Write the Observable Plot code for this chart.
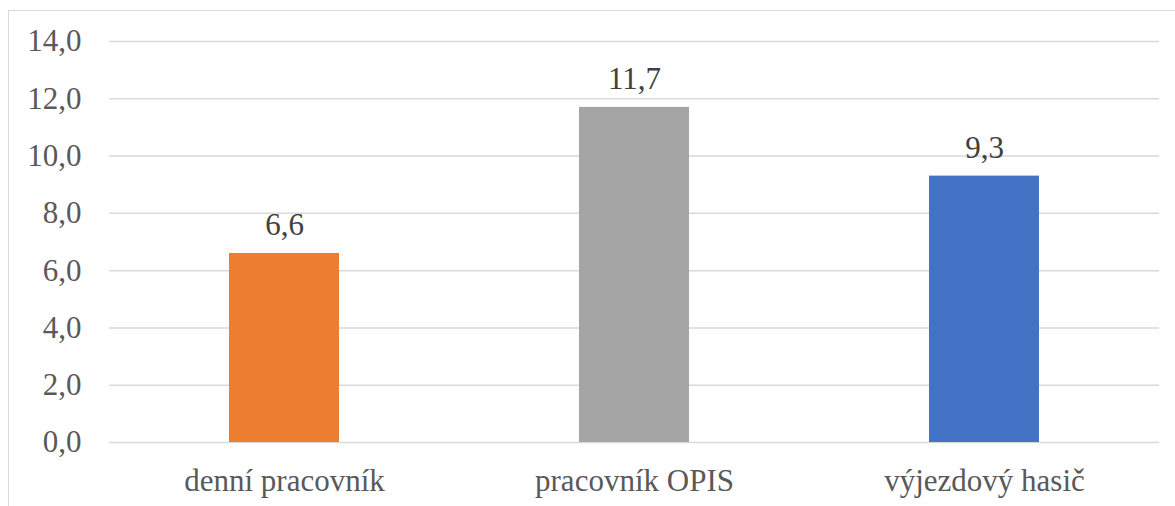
<!DOCTYPE html>
<html>
<head>
<meta charset="utf-8">
<script src="https://cdn.jsdelivr.net/npm/d3@7"></script>
<script src="https://cdn.jsdelivr.net/npm/@observablehq/plot@0.6"></script>
<style>
  html, body { margin: 0; padding: 0; background: #fff; }
  #wrap { position: relative; width: 1175px; height: 506px; overflow: hidden; }
  #frame { position: absolute; left: 8px; top: 10px; width: 1300px; height: 600px;
           border-left: 1.5px solid #d9d9d9; border-top: 1.5px solid #d9d9d9; pointer-events: none; }
</style>
</head>
<body>
<div id="wrap"><div id="frame"></div></div>
<script>
const categories = ["denní pracovník", "pracovník OPIS", "výjezdový hasič"];
const values = [6.6, 11.7, 9.3];
const colors = ["#ED7D31", "#A5A5A5", "#4472C4"];
const yTicks = [0, 2, 4, 6, 8, 10, 12, 14];

const cz = d3.formatLocale({decimal: ",", thousands: " ", grouping: [3], currency: ["", " Kč"]});
const fmt = cz.format(".1f");
const FONT = "Liberation Serif, Times New Roman, serif";

const data = categories.map((c, i) => ({category: c, value: values[i], color: colors[i]}));

const chart = Plot.plot({
  width: 1175,
  height: 506,
  marginLeft: 109,
  marginRight: 16,
  marginTop: 41,
  marginBottom: 64,
  style: {fontSize: "31px", color: "#595959", background: "transparent"},
  x: {domain: categories, paddingInner: 0.686, paddingOuter: 0.343, label: null, tickSize: 0, tickPadding: 26},
  y: {domain: [0, 14], ticks: yTicks, tickFormat: fmt, label: null, tickSize: 0, tickPadding: 28},
  marks: [
    Plot.ruleY(yTicks, {stroke: "#d9d9d9", strokeWidth: 1.5}),
    Plot.barY(data, {x: "category", y: "value", fill: "color"}),
    Plot.text(data, {x: "category", y: "value", text: d => fmt(d.value), dy: -18, lineAnchor: "bottom", fill: "#404040", fontSize: 31, fontFamily: FONT}),
    Plot.axisX({tickSize: 0, tickPadding: 26, fill: "#595959", fontSize: 31, fontFamily: FONT}),
    Plot.axisY({ticks: yTicks, tickFormat: fmt, tickSize: 0, tickPadding: 28, fill: "#595959", fontSize: 31, fontFamily: FONT})
  ]
});
chart.setAttribute("font-family", FONT);
chart.querySelectorAll("g, text").forEach(el => el.setAttribute("font-family", FONT));
document.getElementById("wrap").appendChild(chart);
</script>
</body>
</html>
